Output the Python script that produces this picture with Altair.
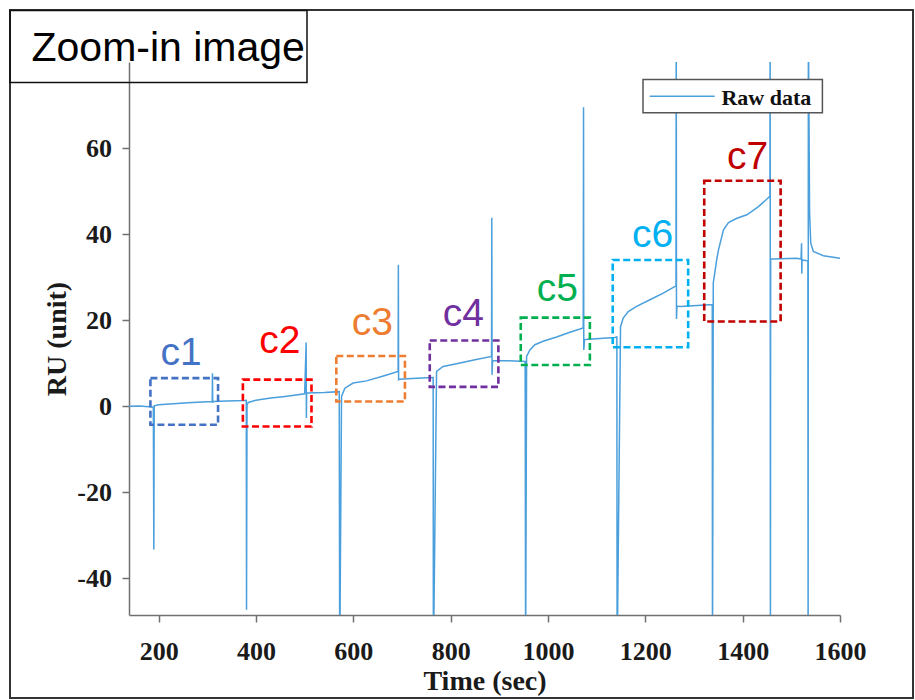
import altair as alt
import pandas as pd

# Sensorgram trace: time (s) and response (RU), including injection spikes
time_s = [
    139, 160, 180, 189,
    190, 190.8, 200, 230, 260, 290, 310,
    310.5, 311, 312, 340, 377,
    380, 380.5, 381.5, 384, 400, 430, 460, 500,
    503, 503.5, 504, 540, 571,
    572, 575.7, 582.5, 599.5, 627, 660, 692,
    692.5, 693, 694, 730, 764,
    764.5, 771, 784.5, 812, 850, 884,
    884.5, 885, 886, 920, 953,
    954, 956, 962.8, 973, 990, 1017.7, 1045, 1072.4,
    1073, 1073.5, 1075, 1082.7, 1137.6, 1141.5,
    1142, 1149, 1154.6, 1164.9, 1182, 1209.5, 1236.8, 1263,
    1263.5, 1264, 1265, 1271, 1333, 1337.5,
    1338, 1339.6, 1343.6, 1346.6, 1350.4, 1360.6, 1370.9, 1388.3, 1408.6, 1432.5, 1456,
    1456.5, 1457, 1457.5, 1463, 1511, 1520,
    1521, 1521.5, 1522, 1534,
    1534.5, 1535, 1537.5, 1539.9, 1545.2, 1565.8, 1600,
]
ru = [
    0.0, 0.05, -0.1, -0.2,
    -33.3, 0.1, 0.35, 0.6, 0.8, 1.0, 1.1,
    7.7, 0.8, 1.1, 1.2, 1.35,
    1.4, -47.3, 0.3, 0.9, 1.4, 1.9, 2.3, 2.9,
    14.8, -2.7, 3.1, 3.2, 3.4,
    -60, 2.3, 4.2, 5.4, 5.9, 7.0, 8.1,
    32.9, 6.2, 6.3, 6.5, 6.7,
    -60, 8.1, 9.25, 9.9, 10.8, 11.6,
    43.8, 7.3, 10.6, 10.6, 10.4,
    -60, 11.6, 13.1, 14.3, 15.1, 16.1, 17.2, 18.2,
    69.5, 13.1, 15.5, 15.6, 16.0, 16.1,
    -60, 18.5, 20.5, 22.0, 23.2, 24.75, 26.3, 28.0,
    90, 20.3, 23.3, 23.2, 23.6, 23.6,
    -60, 28.7, 31.7, 34.0, 36.4, 41.0, 42.7, 43.7, 44.5, 46.4, 48.8,
    90, -60, 34.2, 34.2, 34.4, 34.2,
    37.9, 30.8, 34.0, 33.8,
    -60, 90, 45, 37.9, 36.0, 35.0, 34.4,
]

# Concentration windows c1..c7 (dashed boxes) and their labels
box_labels = ["c1", "c2", "c3", "c4", "c5", "c6", "c7"]
box_colors = ["#4472C4", "#FF0000", "#ED7D31", "#7030A0", "#00B050", "#00B0F0", "#C00000"]
box_t0 = [183, 373, 565, 757, 944, 1133, 1321]
box_t1 = [322, 514, 706, 898, 1086, 1288, 1478]
box_lo = [-4.3, -4.7, 1.1, 4.5, 9.6, 13.7, 19.7]
box_hi = [6.55, 6.2, 11.7, 15.3, 20.6, 34.0, 52.4]
label_t = [246, 449, 639, 826, 1019, 1215, 1410]
label_ru = [9.6, 12.4, 16.6, 18.7, 24.4, 37.1, 55.1]

x_ticks = [200, 400, 600, 800, 1000, 1200, 1400, 1600]
y_ticks = [-40, -20, 0, 20, 40, 60]

series_name = "Raw data"
line_color = "#4a9fdc"

trace = pd.DataFrame({"t": time_s, "ru": ru, "i": list(range(len(time_s)))})
boxes = pd.DataFrame({"label": box_labels, "t0": box_t0, "t1": box_t1, "lo": box_lo, "hi": box_hi,
                      "lt": label_t, "lr": label_ru})
one = pd.DataFrame({"k": [0]})

serif = "Liberation Serif"
sans = "Liberation Sans"

# Plain integer tick text (no thousands separator, ASCII minus)
plain = "'' + datum.value"

x_scale = alt.Scale(domain=[139, 1600], nice=False, zero=False)
y_scale = alt.Scale(domain=[-48.5, 80], nice=False, zero=False)
x_axis = alt.Axis(values=x_ticks, title="Time (sec)", labelExpr=plain, labelBaseline="alphabetic",
                  labelFlush=False, labelPadding=37, titleX=355.5, titleY=74.5,
                  titleBaseline="alphabetic")
y_axis = alt.Axis(values=y_ticks, title="RU (unit)", labelExpr=plain, labelPadding=10.5,
                  labelFlush=False, titleX=-64, titleY=276.5, titleAngle=-90,
                  titleBaseline="alphabetic", titleAlign="center")
box_color = alt.Color("label:N", scale=alt.Scale(domain=box_labels, range=box_colors), legend=None)

line = alt.Chart(trace).mark_line(clip=True, strokeWidth=1.5, color=line_color).encode(
    x=alt.X("t:Q", scale=x_scale, axis=x_axis),
    y=alt.Y("ru:Q", scale=y_scale, axis=y_axis),
    order="i:Q",
)

rects = alt.Chart(boxes).mark_rect(filled=False, strokeWidth=2.6, strokeDash=[7, 3.5]).encode(
    x=alt.X("t0:Q", scale=x_scale, axis=x_axis), x2="t1",
    y=alt.Y("lo:Q", scale=y_scale, axis=y_axis), y2="hi",
    color=box_color,
)

labels = alt.Chart(boxes).mark_text(font=sans, fontSize=39, align="center", baseline="alphabetic").encode(
    x=alt.X("lt:Q", scale=x_scale, axis=x_axis),
    y=alt.Y("lr:Q", scale=y_scale, axis=y_axis),
    text="label:N",
    color=box_color,
)

# Legend box for the trace
legend_box = alt.Chart(one).mark_rect(fill="white", stroke="#555555", strokeWidth=1.5).encode(
    x=alt.value(514), x2=alt.value(693.4), y=alt.value(17.5), y2=alt.value(50.8))
legend_line = alt.Chart(one).mark_rule(color=line_color, strokeWidth=1.5).encode(
    x=alt.value(520.7), x2=alt.value(585.7), y=alt.value(34.2))
legend_text = alt.Chart(one).mark_text(text=series_name, font=serif, fontSize=22, fontWeight="bold",
                                       align="left", baseline="alphabetic", color="#111111").encode(
    x=alt.value(592.4), y=alt.value(42.5))

# Outer frame and the title box
frame = alt.Chart(one).mark_rect(filled=False, stroke="#333333", strokeWidth=2).encode(
    x=alt.value(-119), x2=alt.value(784), y=alt.value(-52), y2=alt.value(636))
title_box = alt.Chart(one).mark_rect(filled=False, stroke="#111111", strokeWidth=1.5).encode(
    x=alt.value(-119), x2=alt.value(178), y=alt.value(-51.5), y2=alt.value(20.5))
title_text = alt.Chart(one).mark_text(text="Zoom-in image", font=sans, fontSize=41, align="left",
                                      baseline="alphabetic", color="#000000").encode(
    x=alt.value(-97.5), y=alt.value(-0.8))

chart = alt.layer(
    frame, title_box, title_text, line, rects, labels, legend_box, legend_line, legend_text
).resolve_scale(
    color="independent"
).properties(
    width=711, height=553, autosize="none",
    padding={"left": 129, "top": 62, "right": 75, "bottom": 85},
).configure_view(stroke=None).configure_axis(
    grid=False, labelFont=serif, labelFontWeight="bold", labelFontSize=26, labelColor="#1a1a1a",
    titleFont=serif, titleFontWeight="bold", titleFontSize=28, titleColor="#1a1a1a",
    domainColor="#707070", domainWidth=1.5, tickColor="#707070", tickWidth=1.5, tickSize=7,
)

chart.save("out.html", embed_options={"renderer": "svg", "actions": False})
